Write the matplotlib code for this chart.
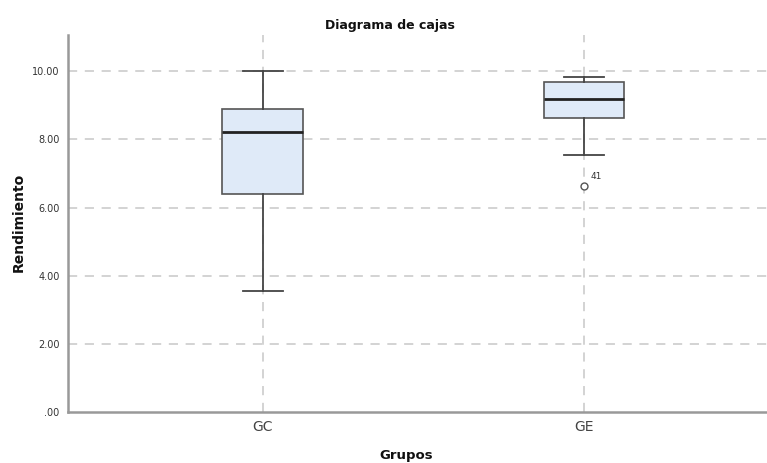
import matplotlib
matplotlib.use("Agg")
import matplotlib.pyplot as plt

groups = ["GC", "GE"]
whislo = [3.55, 7.53]
q1 = [6.40, 8.63]
med = [8.22, 9.18]
q3 = [8.88, 9.68]
whishi = [10.0, 9.82]
fliers = [[], [6.63]]
flier_ids = [[], ["41"]]
yticks = [0, 2, 4, 6, 8, 10]
ytick_labels = [".00", "2.00", "4.00", "6.00", "8.00", "10.00"]


def main():
    fig = plt.figure(figsize=(7.67, 4.63), dpi=100)
    ax = fig.add_axes([0.0887, 0.110, 0.9113, 0.814])

    stats = []
    for i, g in enumerate(groups):
        stats.append({"label": g, "whislo": whislo[i], "q1": q1[i], "med": med[i],
                      "q3": q3[i], "whishi": whishi[i], "fliers": fliers[i]})

    pos = list(range(1, len(groups) + 1))

    # grid lines first so the boxes sit on top
    for y in yticks[1:]:
        ax.axhline(y, color="#c8c8c8", lw=1.1, ls=(0, (6, 5)), zorder=0)
    for x in pos:
        ax.axvline(x, color="#c8c8c8", lw=1.1, ls=(0, (6, 5)), zorder=0)

    ax.bxp(stats, positions=pos, widths=0.252, patch_artist=True,
           boxprops=dict(facecolor="#dfeaf8", edgecolor="#555555", lw=1.2),
           medianprops=dict(color="#222222", lw=2.0),
           whiskerprops=dict(color="#444444", lw=1.3),
           capprops=dict(color="#444444", lw=1.3),
           capwidths=0.125,
           flierprops=dict(marker="o", markersize=5, markerfacecolor="white",
                           markeredgecolor="#555555", markeredgewidth=1.0),
           zorder=3)

    for i, ids in enumerate(flier_ids):
        for val, name in zip(fliers[i], ids):
            ax.annotate(name, (pos[i], val), xytext=(5, 5), textcoords="offset points",
                        fontsize=6.5, color="#333333")

    ax.set_xlim(0.393, 2.57)
    ax.set_ylim(0, 11.06)
    ax.set_yticks(yticks)
    ax.set_yticklabels(ytick_labels, fontsize=7, color="#333333")
    ax.set_xticks(pos)
    ax.set_xticklabels(groups, fontsize=10, color="#444444")
    ax.tick_params(length=0, pad=6)

    for s in ["top", "right"]:
        ax.spines[s].set_visible(False)
    for s in ["left", "bottom"]:
        ax.spines[s].set_color("#999999")
        ax.spines[s].set_linewidth(1.8)

    fig.text(0.508, 0.945, "Diagrama de cajas", ha="center", va="center",
             fontsize=9, fontweight="bold", color="#111111")
    fig.text(0.024, 0.52, "Rendimiento", rotation=90, ha="center", va="center",
             fontsize=10, fontweight="bold", color="#111111")
    fig.text(0.53, 0.017, "Grupos", ha="center", va="center",
             fontsize=9.5, fontweight="bold", color="#111111")

    fig.savefig("out.png", dpi=100)


if __name__ == "__main__":
    main()
